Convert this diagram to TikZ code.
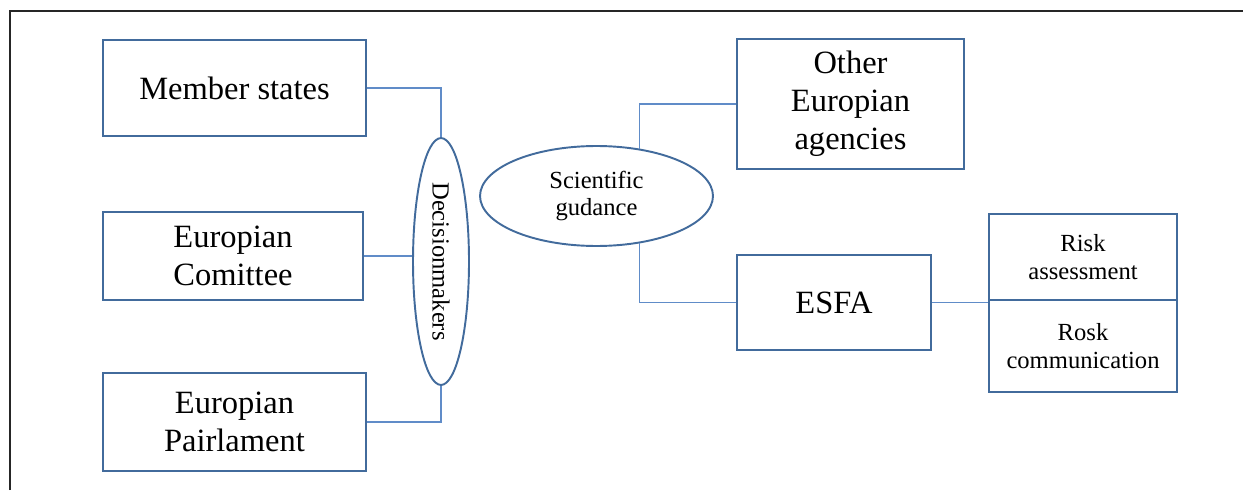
\documentclass[tikz,border=0pt]{standalone}
\usepackage{fontspec}
\setmainfont{Liberation Serif}
\usepackage{xcolor}
\usetikzlibrary{positioning, shapes.geometric}

\definecolor{boxblue}{RGB}{66,107,156}
\definecolor{lineblue}{RGB}{96,140,200}

\begin{document}
\begin{tikzpicture}[
    x=0.02cm, y=-0.02cm,
    block/.style={
        rectangle,
        draw=boxblue,
        line width=1.1pt,
        align=center,
        inner sep=2pt,
        font=\fontsize{18.5}{21.5}\selectfont
    },
    smallblock/.style={
        block,
        font=\fontsize{14}{16}\selectfont,
        minimum width=3.76cm
    },
    oval/.style={
        ellipse,
        draw=boxblue,
        line width=1.1pt,
        align=center,
        inner sep=0pt,
        font=\fontsize{14}{15.5}\selectfont
    },
    link/.style={
        draw=lineblue,
        line width=0.6pt
    },
    frame/.style={
        draw=black!85,
        line width=1.2pt
    }
]
\useasboundingbox (0,0) rectangle (1243,490);

% outer frame (cut off at right and bottom)
\draw[frame] (10,490) -- (10,11) -- (1243,11);

% decision makers
\node[block, minimum width=5.26cm, minimum height=1.92cm] (member) at (234.5,88) {Member states};
\node[block, minimum width=5.2cm, minimum height=1.76cm] (comittee) at (233,256) {Europian\\Comittee};
\node[block, minimum width=5.26cm, minimum height=1.96cm] (pairlament) at (234.5,422) {Europian\\Pairlament};

\node[oval, minimum width=1.12cm, minimum height=4.94cm] (decision) at (441,261.5) {\rotatebox{-90}{Decisionmakers}};

% scientific side
\node[oval, minimum width=4.66cm, minimum height=2cm] (guidance) at (596.5,196) {Scientific\\gudance};

\node[block, minimum width=4.54cm, minimum height=2.6cm] (agencies) at (850.5,104) {Other\\Europian\\agencies};
\node[block, minimum width=3.88cm, minimum height=1.9cm] (esfa) at (834,302.5) {ESFA};

\node[smallblock, minimum height=1.72cm] (assess) at (1083,257) {Risk\\assessment};
\node[smallblock, minimum height=1.84cm, below=-1.1pt of assess] (commun) {Rosk\\communication};

% connectors
\draw[link] (member.east) -| (decision.north);
\draw[link] (comittee.east) -- (comittee.east -| decision.west);
\draw[link] (pairlament.east) -| (decision.south);
\draw[link] (guidance.48) |- (agencies.west);
\draw[link] (guidance.-48) |- (esfa.west);
\draw[link] (esfa.east) -- (esfa.east -| assess.west);

\end{tikzpicture}
\end{document}
